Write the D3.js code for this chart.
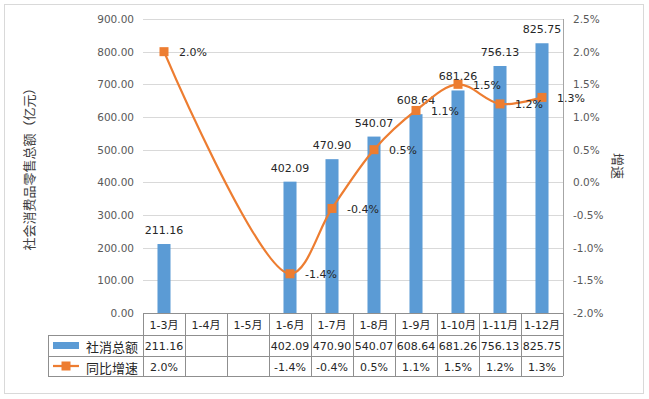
<!DOCTYPE html>
<html>
<head>
<meta charset="utf-8">
<script src="https://cdn.jsdelivr.net/npm/d3@7"></script>
<style>
  body { margin: 0; background: #fff; }
  text { font-family: "DejaVu Sans", "Noto Sans CJK SC", sans-serif; }
</style>
</head>
<body>
<svg id="chart"></svg>
<script>
// data
const months = ["1-3月", "1-4月", "1-5月", "1-6月", "1-7月", "1-8月", "1-9月", "1-10月", "1-11月", "1-12月"];
const totals = [211.16, null, null, 402.09, 470.90, 540.07, 608.64, 681.26, 756.13, 825.75];
const growth = [2.0, null, null, -1.4, -0.4, 0.5, 1.1, 1.5, 1.2, 1.3];
const leftTicks = [0, 100, 200, 300, 400, 500, 600, 700, 800, 900];
const rightTicks = [-2.0, -1.5, -1.0, -0.5, 0.0, 0.5, 1.0, 1.5, 2.0, 2.5];
const seriesNames = ["社消总额", "同比增速"];
const leftTitle = "社会消费品零售总额（亿元）";
const rightTitle = "增速";

const W = 649, H = 399;
const margin = { top: 19, left: 143, right: 86, bottom: 86 };
const plotW = W - margin.left - margin.right;   // 420
const plotH = H - margin.top - margin.bottom;   // 294

const barColor = "#5B9BD5";
const lineColor = "#ED7D31";
const gridColor = "#d9d9d9";
const tableColor = "#8f8f8f";
const cjk = "'Noto Sans CJK SC', sans-serif";

// Excel style: plain hyphen for negatives
const fmt2 = d => d3.format(".2f")(d).replace("−", "-");
const pct = d => d3.format(".1f")(d).replace("−", "-") + "%";

const svg = d3.select("#chart").attr("width", W).attr("height", H);

// outer frame
svg.append("rect")
  .attr("x", 4.5).attr("y", 4.5)
  .attr("width", W - 10).attr("height", H - 10)
  .attr("fill", "#fff").attr("stroke", "#d9d9d9");

const x = d3.scaleBand().domain(months).range([0, plotW]).padding(0);
const xBar = d3.scaleBand().domain(months).range([0, plotW]).paddingInner(0.69).paddingOuter(0.345);
const yL = d3.scaleLinear().domain([0, 900]).range([plotH, 0]);
const yR = d3.scaleLinear().domain([-2.0, 2.5]).range([plotH, 0]);

const main = svg.append("g").attr("transform", `translate(${margin.left}, ${margin.top})`);

// gridlines
main.append("g")
  .selectAll("line")
  .data(leftTicks.slice(1))
  .join("line")
  .attr("x1", 0).attr("x2", plotW)
  .attr("y1", d => Math.round(yL(d)) + 0.5)
  .attr("y2", d => Math.round(yL(d)) + 0.5)
  .attr("stroke", gridColor);

// left axis
const leftAxis = main.append("g")
  .call(d3.axisLeft(yL).tickValues(leftTicks).tickFormat(fmt2).tickSize(0).tickPadding(9));
leftAxis.select(".domain").remove();
leftAxis.selectAll("text").attr("font-size", 10.5).attr("fill", "#595959");

// right axis
const rightAxis = main.append("g")
  .attr("transform", `translate(${plotW}, 0)`)
  .call(d3.axisRight(yR).tickValues(rightTicks).tickFormat(pct).tickSize(0).tickPadding(10));
rightAxis.select(".domain").attr("stroke", "#a6a6a6").attr("d", `M0.5,0V${plotH}`);
rightAxis.selectAll("text").attr("font-size", 10.5).attr("fill", "#595959");

// axis titles
svg.append("text")
  .attr("transform", `translate(28, ${margin.top + plotH / 2}) rotate(-90)`)
  .attr("text-anchor", "middle").attr("dominant-baseline", "central")
  .attr("font-size", 13).attr("fill", "#404040")
  .style("font-family", cjk)
  .text(leftTitle);

svg.append("text")
  .attr("transform", `translate(618, ${margin.top + plotH / 2}) rotate(90)`)
  .attr("text-anchor", "middle").attr("dominant-baseline", "central")
  .attr("font-size", 13).attr("fill", "#404040")
  .style("font-family", cjk)
  .text(rightTitle);

// bars
const barData = months.map((m, i) => ({ m, v: totals[i] })).filter(d => d.v != null);
main.selectAll(".bar")
  .data(barData)
  .join("rect")
  .attr("class", "bar")
  .attr("x", d => xBar(d.m))
  .attr("width", xBar.bandwidth())
  .attr("y", d => yL(d.v))
  .attr("height", d => plotH - yL(d.v))
  .attr("fill", barColor);

main.selectAll(".bar-label")
  .data(barData)
  .join("text")
  .attr("class", "bar-label")
  .attr("x", d => x(d.m) + x.bandwidth() / 2)
  .attr("y", d => yL(d.v) - 10)
  .attr("text-anchor", "middle")
  .attr("font-size", 11).attr("fill", "#262626")
  .text(d => fmt2(d.v));

// growth line (empty months are skipped and the line is joined across them)
const lineData = months.map((m, i) => ({ m, v: growth[i] })).filter(d => d.v != null);
const cx = d => x(d.m) + x.bandwidth() / 2;
const line = d3.line()
  .x(cx)
  .y(d => yR(d.v))
  .curve(d3.curveCatmullRom.alpha(0.5));

main.append("path")
  .datum(lineData)
  .attr("d", line)
  .attr("fill", "none")
  .attr("stroke", lineColor)
  .attr("stroke-width", 2.25)
  .attr("stroke-linejoin", "round");

main.selectAll(".marker")
  .data(lineData)
  .join("rect")
  .attr("class", "marker")
  .attr("x", d => cx(d) - 4.5)
  .attr("y", d => yR(d.v) - 4.5)
  .attr("width", 9).attr("height", 9)
  .attr("fill", lineColor);

main.selectAll(".line-label")
  .data(lineData)
  .join("text")
  .attr("class", "line-label")
  .attr("x", d => cx(d) + 15)
  .attr("y", d => yR(d.v) + 1)
  .attr("dominant-baseline", "central")
  .attr("font-size", 11).attr("fill", "#262626")
  .text(d => pct(d.v));

// data table under the plot
const rowH = [22, 21, 20];
const tableTop = plotH;
const legendLeft = 48 - margin.left;
const table = main.append("g").attr("class", "table");

const rowY = [tableTop, tableTop + rowH[0], tableTop + rowH[0] + rowH[1], tableTop + rowH[0] + rowH[1] + rowH[2]];

// horizontal lines
table.append("line")
  .attr("x1", 0).attr("x2", plotW)
  .attr("y1", rowY[0] + 0.5).attr("y2", rowY[0] + 0.5)
  .attr("stroke", tableColor);
[1, 2, 3].forEach(r => {
  table.append("line")
    .attr("x1", legendLeft).attr("x2", plotW)
    .attr("y1", rowY[r] + 0.5).attr("y2", rowY[r] + 0.5)
    .attr("stroke", tableColor);
});

// vertical lines
const colEdges = months.map(m => x(m)).concat([plotW]);
table.selectAll(".vline")
  .data(colEdges)
  .join("line")
  .attr("class", "vline")
  .attr("x1", d => Math.round(d) + 0.5).attr("x2", d => Math.round(d) + 0.5)
  .attr("y1", rowY[0]).attr("y2", rowY[3])
  .attr("stroke", tableColor);
table.append("line")
  .attr("x1", legendLeft + 0.5).attr("x2", legendLeft + 0.5)
  .attr("y1", rowY[1]).attr("y2", rowY[3])
  .attr("stroke", tableColor);

// category row
table.selectAll(".cat")
  .data(months)
  .join("text")
  .attr("class", "cat")
  .attr("x", d => x(d) + x.bandwidth() / 2)
  .attr("y", (rowY[0] + rowY[1]) / 2 + 1)
  .attr("text-anchor", "middle").attr("dominant-baseline", "central")
  .attr("font-size", 11).attr("fill", "#262626")
  .text(d => d);

// value rows
table.selectAll(".tv")
  .data(barData)
  .join("text")
  .attr("class", "tv")
  .attr("x", d => x(d.m) + x.bandwidth() / 2)
  .attr("y", (rowY[1] + rowY[2]) / 2 + 1)
  .attr("text-anchor", "middle").attr("dominant-baseline", "central")
  .attr("font-size", 11).attr("fill", "#262626")
  .text(d => fmt2(d.v));

table.selectAll(".tg")
  .data(lineData)
  .join("text")
  .attr("class", "tg")
  .attr("x", d => x(d.m) + x.bandwidth() / 2)
  .attr("y", (rowY[2] + rowY[3]) / 2 + 1)
  .attr("text-anchor", "middle").attr("dominant-baseline", "central")
  .attr("font-size", 11).attr("fill", "#262626")
  .text(d => pct(d.v));

// legend keys
const keyX = legendLeft + 5;
table.append("rect")
  .attr("x", keyX).attr("y", (rowY[1] + rowY[2]) / 2 - 3.5)
  .attr("width", 26).attr("height", 7)
  .attr("fill", barColor);
table.append("line")
  .attr("x1", keyX).attr("x2", keyX + 26)
  .attr("y1", (rowY[2] + rowY[3]) / 2).attr("y2", (rowY[2] + rowY[3]) / 2)
  .attr("stroke", lineColor).attr("stroke-width", 2.25);
table.append("rect")
  .attr("x", keyX + 13 - 4.5).attr("y", (rowY[2] + rowY[3]) / 2 - 4.5)
  .attr("width", 9).attr("height", 9)
  .attr("fill", lineColor);

table.selectAll(".sname")
  .data(seriesNames)
  .join("text")
  .attr("class", "sname")
  .attr("x", keyX + 33)
  .attr("y", (d, i) => (rowY[i + 1] + rowY[i + 2]) / 2 + 1)
  .attr("dominant-baseline", "central")
  .attr("font-size", 13).attr("fill", "#262626")
  .style("font-family", cjk)
  .text(d => d);
</script>
</body>
</html>
